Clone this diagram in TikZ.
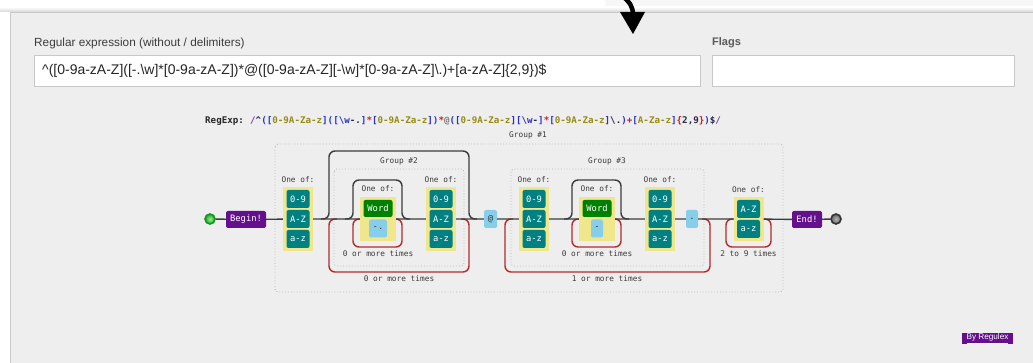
\documentclass[tikz,border=0pt]{standalone}
\usepackage{fontspec}
\setmainfont{Liberation Sans}
\newfontfamily\dmono{DejaVu Sans Mono}
\usetikzlibrary{calc}
\definecolor{panelbg}{RGB}{238,238,238}
\definecolor{panelln}{RGB}{200,200,200}
\definecolor{boxln}{RGB}{200,200,200}
\definecolor{lbl}{RGB}{60,60,60}
\definecolor{tealc}{RGB}{0,128,128}
\definecolor{khakic}{RGB}{240,230,140}
\definecolor{wordc}{RGB}{0,128,0}
\definecolor{skyc}{RGB}{135,206,235}
\definecolor{purpc}{RGB}{100,16,140}
\definecolor{loopc}{RGB}{175,45,45}
\definecolor{linec}{RGB}{60,60,60}
\definecolor{grpc}{RGB}{190,190,190}
\definecolor{cslash}{RGB}{110,60,190}
\definecolor{cpar}{RGB}{40,50,200}
\definecolor{cset}{RGB}{150,140,20}
\definecolor{cq}{RGB}{200,30,30}
\definecolor{cdk}{RGB}{40,40,70}
\definecolor{cat}{RGB}{120,120,120}
\definecolor{startin}{RGB}{150,235,150}
\definecolor{startout}{RGB}{30,170,40}
\newcommand{\rxP}[1]{\textcolor{cpar}{#1}}
\newcommand{\rxS}[1]{\textcolor{cset}{#1}}
\newcommand{\rxQ}[1]{\textcolor{cq}{#1}}
\newcommand{\rxD}[1]{\textcolor{cdk}{#1}}
\tikzset{
  boxtxt/.style={font=\dmono\fontsize{8.8}{9}\selectfont, inner sep=0pt, rounded corners=2pt},
  rangebox/.style={boxtxt, fill=tealc, text=white, minimum width=23pt, minimum height=18pt},
  setbox/.style={fill=khakic, inner sep=0pt, minimum width=30pt, minimum height=64pt},
  setboxs/.style={fill=khakic, inner sep=0pt, minimum width=30pt, minimum height=44pt},
  wordbox/.style={boxtxt, fill=wordc, text=white, minimum width=29pt, minimum height=17pt},
  charbox/.style={boxtxt, fill=skyc, text=black!80, minimum height=18pt},
  termbox/.style={boxtxt, fill=purpc, text=white, minimum height=17pt},
  small/.style={font=\dmono\fontsize{7.8}{9}\selectfont, text=lbl, inner sep=0pt},
  mainln/.style={draw=linec, line width=1.4pt},
  skippath/.style={draw=linec, line width=1.4pt, rounded corners=6pt},
  redloop/.style={draw=loopc, line width=1.4pt, rounded corners=6pt},
  grpbox/.style={draw=grpc, dotted, line width=0.9pt, rounded corners=3pt},
  inputbox/.style={draw=boxln, fill=white, line width=0.8pt},
  formlbl/.style={font=\fontsize{11.8}{13}\selectfont, text=lbl, inner sep=0pt, anchor=west}
}
\begin{document}
\begin{tikzpicture}[x=1pt,y=-1pt]
\useasboundingbox (0,0) rectangle (1033,363);
% page background and panel
\fill[white] (0,0) rectangle (1033,363);
\fill[black!3] (605,0) rectangle (1033,9);
\shade[top color=white, bottom color=black!16] (0,7) rectangle (1033,12);
\fill[panelbg] (10,12) rectangle (1040,370);
\draw[panelln, line width=1pt] (10.5,370) -- (10.5,12.5) -- (1040,12.5);
% top arrow
\draw[line width=4.5pt, line cap=round] (622,-4) .. controls (629,1) and (633,6) .. (633,15);
\fill (620,12) -- (645,12) -- (633,34) -- cycle;
% form
\node[formlbl] (relbl) at (34,43) {Regular expression (without / delimiters)};
\node[formlbl, font=\bfseries\fontsize{11}{13}\selectfont, text=black!65] (flbl) at (712,43) {Flags};
\node[inputbox, minimum width=666pt, minimum height=31pt, inner sep=0pt, anchor=north west] (rebox) at (34,55) {};
\node[font=\fontsize{14}{16}\selectfont, text=black!85, inner sep=0pt, anchor=west] (retxt) at (42,71) {\textasciicircum([0-9a-zA-Z]([-.\textbackslash w]*[0-9a-zA-Z])*@([0-9a-zA-Z][-\textbackslash w]*[0-9a-zA-Z]\textbackslash.)+[a-zA-Z]\{2,9\})\$};
\node[inputbox, minimum width=302pt, minimum height=31pt, inner sep=0pt, anchor=north west] (flbox) at (712,55) {};
% RegExp line
\node[font=\dmono\bfseries\fontsize{9.2}{10}\selectfont, text=black!85, inner sep=0pt, anchor=west] (rxlbl) at (205,121) {RegExp:};
\node[font=\dmono\bfseries\fontsize{9.2}{10}\selectfont, inner sep=0pt, anchor=west] (rxtxt) at (250,121) {\textcolor{cslash}{/}\rxD{\textasciicircum}\rxP{([}\rxS{0-9A-Za-z}\rxP{]([\textbackslash w}\rxD{-.}\rxP{]}\rxQ{*}\rxP{[}\rxS{0-9A-Za-z}\rxP{])}\rxQ{*}\textcolor{cat}{@}\rxP{([}\rxS{0-9A-Za-z}\rxP{][\textbackslash w}\rxD{-}\rxP{]}\rxQ{*}\rxP{[}\rxS{0-9A-Za-z}\rxP{]}\rxD{\textbackslash.}\rxP{)}\rxQ{+}\rxP{[}\rxS{A-Za-z}\rxP{]}\rxQ{\{}\rxD{2,9}\rxQ{\}}\rxP{)}\rxD{\$}\textcolor{cslash}{/}};
% groups
\draw[grpbox] (275,144) rectangle (783,292);
\node[small] (g1lbl) at (528,135) {Group \#1};
\draw[grpbox] (334,169) rectangle (464,266);
\node[small] (g2lbl) at (399,161) {Group \#2};
\draw[grpbox] (511,169) rectangle (704,266);
\node[small] (g3lbl) at (607,161) {Group \#3};
% skip and loop paths
\draw[skippath] (321,219) -- (329,219) -- (329,151) -- (469,151) -- (469,219) -- (477,219);
\draw[redloop] (337,219) -- (329,219) -- (329,272) -- (469,272) -- (469,219) -- (461,219);
\node[small] (q1) at (399,279) {0 or more times};
\draw[skippath] (345,219) -- (353,219) -- (353,180) -- (402,180) -- (402,219) -- (410,219);
\draw[redloop] (361,219) -- (353,219) -- (353,247) -- (402,247) -- (402,219) -- (394,219);
\node[small] (q2) at (378,254) {0 or more times};
\draw[redloop] (513,219) -- (505,219) -- (505,272) -- (710,272) -- (710,219) -- (702,219);
\node[small] (q3) at (607,279) {1 or more times};
\draw[skippath] (564,219) -- (572,219) -- (572,180) -- (621,180) -- (621,219) -- (629,219);
\draw[redloop] (580,219) -- (572,219) -- (572,247) -- (621,247) -- (621,219) -- (613,219);
\node[small] (q4) at (597,254) {0 or more times};
\draw[redloop] (734,219) -- (726,219) -- (726,247) -- (771,247) -- (771,219) -- (763,219);
\node[small] (q5) at (748.5,254) {2 to 9 times};
% terminals
\node[circle, inner color=startin, outer color=startout, draw={rgb,255:red,20;green,150;blue,30}, line width=1.6pt, minimum size=10pt, inner sep=0pt] (start) at (210,219) {};
\node[termbox, minimum width=40pt] (begin) at (246,219.5) {Begin!};
\node[termbox, minimum width=30pt] (end) at (807,219.5) {End!};
\node[circle, inner color=black!30, outer color=black!60, draw=black!80, line width=1.6pt, minimum size=10pt, inner sep=0pt] (stop) at (836,219) {};
% charsets
\node[setbox] (csA) at (298,219) {};
\node[setbox] (csB) at (441,219) {};
\node[setbox] (csC) at (534,219) {};
\node[setbox] (csD) at (660,219) {};
\node[setboxs] (csE) at (748.5,219) {};
\node[setboxs, minimum width=36pt] (w1) at (378,219) {};
\node[setboxs, minimum width=36pt] (w2) at (597,219) {};
\node[charbox, minimum width=13pt] (at) at (490.5,219) {@};
\node[charbox, minimum width=12pt] (dot) at (692,219) {.};
% main line
\draw[mainln] (start) -- (begin) -- (csA) -- (w1) -- (csB) -- (at) -- (csC) -- (w2) -- (csD) -- (dot) -- (csE) -- (end) -- (stop);
% labels of charsets
\node[small] (oA) at (298,180) {One of:};
\node[small] (oB) at (441,180) {One of:};
\node[small] (oC) at (534,180) {One of:};
\node[small] (oD) at (660,180) {One of:};
\node[small] (oE) at (748.5,190) {One of:};
\node[small] (oW1) at (378,189) {One of:};
\node[small] (oW2) at (597,189) {One of:};
% ranges
\foreach \cx/\nm in {298/A, 441/B, 534/C, 660/D} {
  \node[rangebox] (\nm1) at (\cx,199) {0-9};
  \node[rangebox] (\nm2) at (\cx,219) {A-Z};
  \node[rangebox] (\nm3) at (\cx,239) {a-z};
}
\node[rangebox] (E1) at (748.5,209) {A-Z};
\node[rangebox] (E2) at (748.5,229) {a-z};
\node[wordbox] (word1) at (378,208.5) {Word};
\node[charbox, minimum width=18pt] (ch1) at (378,228.5) {-.};
\node[wordbox] (word2) at (597,208.5) {Word};
\node[charbox, minimum width=12pt] (ch2) at (597,228.5) {-};
% footer link
\node[fill=purpc, text=white, font=\fontsize{8.2}{9}\selectfont, minimum width=51pt, minimum height=11pt, inner sep=0pt] (byreg) at (987.5,338.5) {\underline{By Regulex}};
\end{tikzpicture}
\end{document}
